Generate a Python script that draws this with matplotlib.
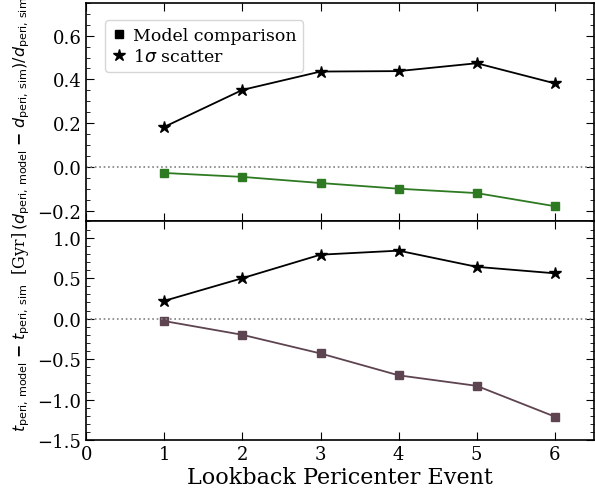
import matplotlib.pyplot as plt
from matplotlib.ticker import MultipleLocator
from matplotlib.lines import Line2D

plt.rcParams['font.family'] = 'DejaVu Serif'
plt.rcParams['mathtext.fontset'] = 'dejavusans'

events = [1, 2, 3, 4, 5, 6]

# fractional pericenter distance offsets
d_model = [-0.028, -0.046, -0.074, -0.100, -0.120, -0.180]
d_scatter = [0.183, 0.352, 0.436, 0.438, 0.474, 0.382]

# pericenter time offsets (Gyr)
t_model = [-0.03, -0.20, -0.43, -0.70, -0.83, -1.21]
t_scatter = [0.22, 0.50, 0.79, 0.84, 0.64, 0.56]

green = '#2e7a22'
plum = '#5e4450'

fig, (ax1, ax2) = plt.subplots(2, 1, figsize=(5.95, 4.89), dpi=100, sharex=True)
fig.subplots_adjust(left=0.145, right=0.998, top=0.992, bottom=0.098, hspace=0)

ax1.plot(events, d_scatter, color='k', marker='*', ms=9, lw=1.3)
ax1.plot(events, d_model, color=green, marker='s', ms=6, lw=1.3)
ax1.axhline(0, color='gray', ls=':', lw=1.2)
ax1.set_ylim(-0.25, 0.75)
ax1.yaxis.set_major_locator(MultipleLocator(0.2))
ax1.yaxis.set_minor_locator(MultipleLocator(0.05))
ax1.set_ylabel(r'$(d_{\rm peri,\,model}\;\mathbf{{-}}\;d_{\rm peri,\,sim})/d_{\rm peri,\,sim}$',
               fontsize=11.4)

ax2.plot(events, t_scatter, color='k', marker='*', ms=9, lw=1.3)
ax2.plot(events, t_model, color=plum, marker='s', ms=6, lw=1.3)
ax2.axhline(0, color='gray', ls=':', lw=1.2)
ax2.set_ylim(-1.5, 1.2)
ax2.yaxis.set_major_locator(MultipleLocator(0.5))
ax2.yaxis.set_minor_locator(MultipleLocator(0.1))
ax2.set_ylabel(r'$t_{\rm peri,\,model}\;\mathbf{{-}}\;t_{\rm peri,\,sim}$  [Gyr]', fontsize=11.4)
ax2.set_xlim(0, 6.5)
ax2.xaxis.set_major_locator(MultipleLocator(1))
ax2.set_xlabel('Lookback Pericenter Event', fontsize=16, labelpad=2)

for ax in (ax1, ax2):
    ax.tick_params(which='both', direction='in', top=True, right=True, labelsize=13)
    ax.tick_params(which='major', length=6)
    ax.tick_params(which='minor', length=3)
    for s in ax.spines.values():
        s.set_linewidth(1.2)

handles = [Line2D([], [], color='k', marker='s', ls='none', ms=6),
           Line2D([], [], color='k', marker='*', ls='none', ms=9)]
ax1.legend(handles, ['Model comparison', r'1$\sigma$ scatter'], loc='upper left',
           fontsize=12.5, handlelength=0.8, handletextpad=0.4, borderpad=0.4,
           labelspacing=0.2, bbox_to_anchor=(0.02, 0.96))

fig.align_ylabels([ax1, ax2])
fig.savefig('out.png', dpi=100)
